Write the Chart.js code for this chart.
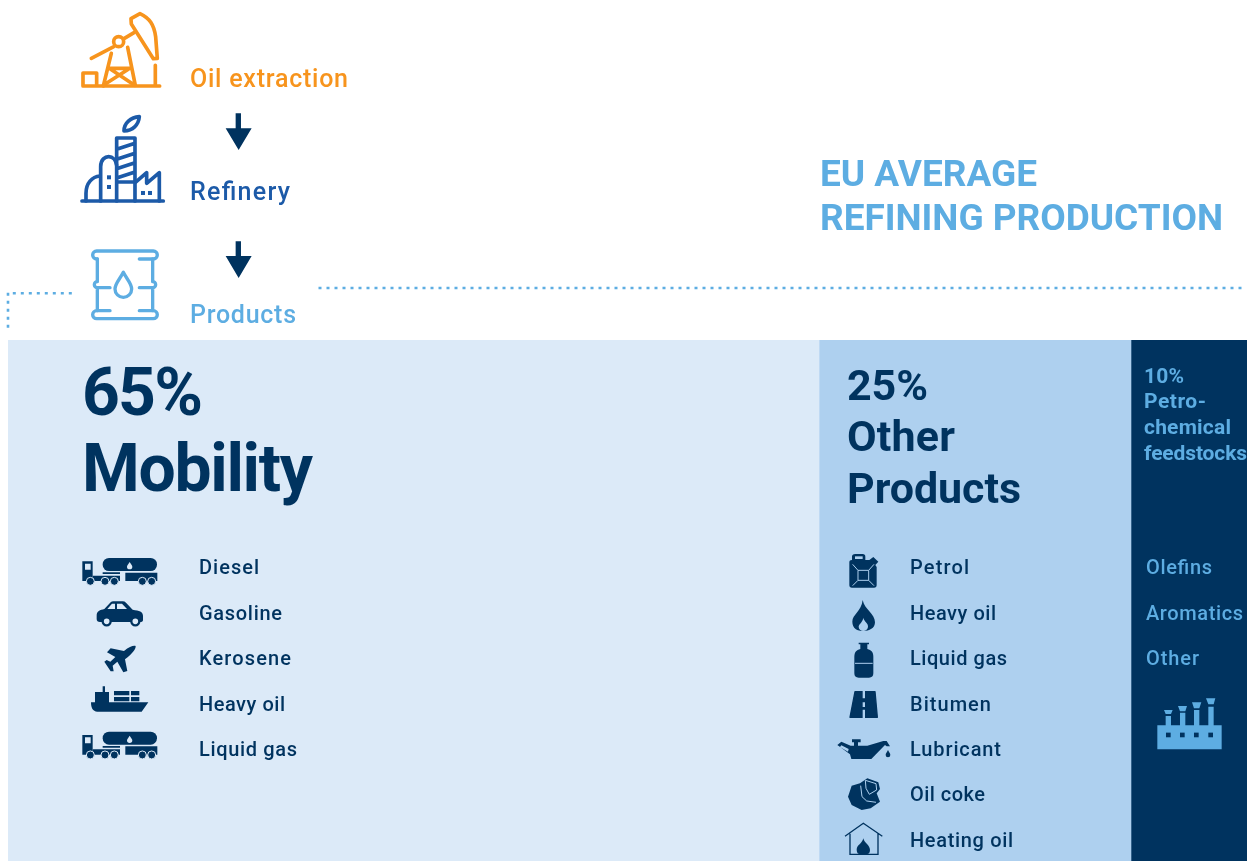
<!DOCTYPE html>
<html>
<head>
<meta charset="utf-8">
<title>EU average refining production</title>
<script src="https://cdn.jsdelivr.net/npm/chart.js@4"></script>
<style>
  html, body { margin: 0; padding: 0; width: 1247px; height: 861px; overflow: hidden; background: #fff; }
  #chart { position: absolute; left: 0; top: 0; }
  #overlay { position: absolute; left: 0; top: 0; width: 1247px; height: 861px; }
  #overlay text { font-family: Roboto, sans-serif; }
</style>
</head>
<body>
<canvas id="chart" width="1256" height="861" role="img" aria-label="EU average refining production: 65% mobility, 25% other products, 10% petrochemical feedstocks"></canvas>
<svg id="overlay" viewBox="0 0 1247 861" xmlns="http://www.w3.org/2000/svg">
  <defs>
    <g id="truck">
      <path fill="#00335f" fill-rule="evenodd" d="M37 49H68V108H37ZM45 56V74H62V56Z"/>
      <rect x="98" y="39" width="163" height="39" rx="19" fill="#00335f"/>
      <path fill="#00335f" d="M68 92H150V108H68ZM166 83H262V108H166ZM98 82H150V87H98Z"/>
      <path fill="#dceaf8" d="M179 51C175 58 171 61 171 65A8 8 0 0 0 187 65C187 61 183 58 179 51Z"/>
      <g fill="#00335f" stroke="#dceaf8" stroke-width="3">
        <circle cx="61" cy="109" r="12"/><circle cx="105" cy="109" r="12"/><circle cx="133" cy="109" r="12"/>
        <circle cx="217" cy="109" r="12"/><circle cx="245" cy="109" r="12"/>
      </g>
    </g>
  </defs>

  <!-- dotted guides -->
  <g stroke="#5dade2" stroke-width="2.6" fill="none" stroke-dasharray="3 5">
    <path d="M318.5 288H1243"/>
    <path d="M12.8 293.3H72"/>
    <path d="M8 292.8V329"/>
  </g>

  <!-- process icons, written in the 3x crop coordinates -->
  <g transform="scale(0.3333)">
    <g fill="none" stroke="#f7941d" stroke-width="11" stroke-linecap="round" stroke-linejoin="round">
      <path d="M249 258H479M249 258V219H290V258M466 196V258"/>
      <path d="M274 175L340 141M372 116L402 98"/>
      <circle cx="356" cy="125" r="15"/>
      <path d="M393 56L420 41C450 55 462 75 467 110L472 175L460 176L394 72Z"/>
      <path d="M334 160L310 258M383 142L406 256M326 205H392M332 208L404 256M385 208L310 256"/>
    </g>
    <g fill="none" stroke="#1c5aa8" stroke-width="11" stroke-linecap="round" stroke-linejoin="round">
      <path d="M246 603H490"/>
      <path d="M350 603V414H405V603M350 448L405 430M350 478L405 460M350 506L405 488M350 534L405 516M350 546H405"/>
      <path d="M302 603V500C302 478 316 470 326 470C338 470 348 480 350 496"/>
      <path d="M258 603V580C258 550 276 530 300 528"/>
      <path d="M408 546L440 518V550L478 518V603"/>
      <path d="M372 393C372 370 392 352 418 350C416 375 398 392 372 393Z"/>
    </g>
    <g fill="#1c5aa8">
      <rect x="321" y="526" width="12" height="12"/><rect x="321" y="555" width="12" height="12"/>
      <rect x="423" y="573" width="12" height="12"/><rect x="444" y="573" width="12" height="12"/>
    </g>
    <g fill="#00335f">
      <path d="M707 340H723V385H755L716 450L677 385H707Z"/>
      <path d="M707 724H723V768H755L716 834L677 768H707Z"/>
    </g>
  </g>

  <!-- barrel -->
  <g transform="translate(80 240) scale(0.3333)" fill="none" stroke="#5dade2" stroke-width="10" stroke-linecap="round" stroke-linejoin="round">
    <path d="M52 57H50A12 12 0 0 1 50 33H220A12 12 0 0 1 220 57H178"/>
    <path d="M90 212H50A12 12 0 0 0 50 236H220A12 12 0 0 0 220 212H178"/>
    <path d="M52 57V125A9 9 0 0 0 52 143V212M52 143H90"/>
    <path d="M218 57V125A9 9 0 0 1 218 143V212M218 143H178"/>
    <path d="M130 97C120 117 105 130 105 147A25 25 0 0 0 155 147C155 130 140 117 130 97Z"/>
  </g>

  <!-- mobility icons, offset to the crop they were read from -->
  <g transform="translate(70 545) scale(0.3333)">
    <use href="#truck"/>
    <use href="#truck" y="521"/>
    <path fill="#00335f" d="M80 212C80 198 90 195 103 192L122 172Q125 169 130 169H158Q164 169 168 173L188 194C208 197 219 200 219 212V225Q219 231 210 231H90Q80 231 80 222Z"/>
    <path fill="#dceaf8" d="M112 192L126 176H135V192ZM141 176H156L171 192H141Z"/>
    <g fill="#dceaf8" stroke="#00335f" stroke-width="7">
      <circle cx="110" cy="229" r="12"/><circle cx="196" cy="229" r="12"/>
    </g>
    <path fill="#00335f" d="M197 303C198 312 188 325 165 343L172 378L160 382L142 350L128 362L131 379L122 379L103 350L110 345L121 350L136 336L111 322L122 310L162 318C178 305 190 301 197 303Z"/>
    <path fill="#00335f" d="M63 472H75V441H98V424H105V441H117V472H235L215 500H82C68 500 63 488 63 472Z"/>
    <path fill="#00335f" d="M132 438H178V451H132ZM183 438H208V451H183ZM132 456H178V469H132ZM183 456H208V469H183Z"/>
  </g>

  <!-- other product icons -->
  <g transform="translate(830 545) scale(0.3333)">
    <path fill="#00335f" d="M66 45V35Q66 27 76 27H98Q106 27 106 35V45H118L130 36L145 50L136 60L140 66V120Q140 128 132 128H66Q58 128 58 120V52Q58 45 66 45Z"/>
    <path fill="#aed0ef" d="M75 34H98V42H75Z"/>
    <path fill="none" stroke="#aed0ef" stroke-width="3" d="M84 76H116V106H84ZM68 58L84 76M132 58L116 76M68 122L84 106M132 122L116 106"/>
    <path fill="#00335f" d="M98 165C104 195 135 205 135 232C135 250 118 258 100 258C82 258 67 250 67 230C67 208 94 200 98 165Z"/>
    <path fill="#aed0ef" d="M100 218C102 230 116 234 114 246C113 254 106 258 100 258C92 258 86 252 86 245C86 238 98 232 100 218Z"/>
    <path fill="#00335f" d="M86 293H117V298H112V312C124 315 130 322 130 335V385Q130 398 117 398H86Q73 398 73 385V335C73 322 79 315 91 312V298H86Z"/>
    <path stroke="#aed0ef" stroke-width="3" d="M75 355H128"/>
    <path fill="#00335f" fill-rule="evenodd" d="M22 600L34 590L62 602H72V592H66V583H92V592H84V602H112L160 588H170L180 604H170L165 600L124 642H64L60 628ZM34 601L30 606L54 620L56 612Z"/>
    <path fill="#00335f" d="M174 615C171 622 167 625 167 630A7 7 0 0 0 181 630C181 625 177 622 174 615Z"/>
    <path fill="#00335f" d="M112 700L145 712L150 732L140 745L150 770L122 790L95 795L65 780L54 755L65 722L90 715Z"/>
    <path fill="none" stroke="#aed0ef" stroke-width="3" d="M106 706L138 716L140 735L118 748L108 730ZM92 722L96 755L110 768L138 772"/>
    <path fill="none" stroke="#00335f" stroke-width="4" d="M45 874L100 835L157 874M60 866V928H144V866"/>
    <path fill="#00335f" d="M100 880C103 895 120 900 120 915C120 924 115 927 112 927H88C84 927 80 922 80 914C80 900 97 896 100 880Z"/>
  </g>

  <!-- road icon -->
  <g transform="translate(840 685) scale(0.3333)">
    <path fill="#00335f" stroke="#00335f" stroke-width="4" stroke-linejoin="round" d="M45 20H105L112 97H30Z"/>
    <path fill="#aed0ef" d="M68 17H75V40H68ZM68 52H75V66H68ZM68 74H75V100H68Z"/>
  </g>

  <!-- factory icon -->
  <g transform="translate(1125 340) scale(0.3333)" fill="#5dade2">
    <path d="M97 1156H122V1128H138V1156H165V1118H181V1156H207V1110H223V1156H250V1100H266V1156H290V1228H97Z"/>
    <path d="M117 1110H143L138 1122H122ZM159 1098H186L181 1114H165ZM201 1087H229L223 1105H207ZM243 1075H271L266 1093H250Z"/>
    <g fill="#00335f">
      <rect x="123" y="1178" width="14" height="14"/><rect x="165" y="1178" width="14" height="14"/>
      <rect x="207" y="1178" width="14" height="14"/><rect x="250" y="1178" width="14" height="14"/>
    </g>
  </g>

  <g id="labels"></g>
</svg>

<script>
// shares of refining output, percent
const shareLabels = ['Mobility', 'Other Products', 'Petrochemical feedstocks'];
const shareValues = [65, 25, 10];
const shareColors = ['#dceaf8', '#aed0ef', '#00335f'];
const rowLabels = ['EU average'];

const mobilityProducts = ['Diesel', 'Gasoline', 'Kerosene', 'Heavy oil', 'Liquid gas'];
const otherProducts = ['Petrol', 'Heavy oil', 'Liquid gas', 'Bitumen', 'Lubricant', 'Oil coke', 'Heating oil'];
const petroProducts = ['Olefins', 'Aromatics', 'Other'];

// text layout: widths in px for each word list
const listBaselines = [574, 620, 665, 711, 756, 801, 847];
const mobilityWidths = [60, 83, 92, 86, 98];
const otherWidths = [59, 86, 97, 81, 91, 75, 103];
const petroWidths = [66, 97, 53];

const NAVY = '#00335f';
const LIGHT = '#5dade2';

const labels = document.getElementById('labels');

function addText(str, x, y, size, weight, color, width) {
  const t = document.createElementNS('http://www.w3.org/2000/svg', 'text');
  t.setAttribute('x', x);
  t.setAttribute('y', y);
  t.setAttribute('font-size', size);
  t.setAttribute('font-weight', weight);
  t.setAttribute('fill', color);
  t.setAttribute('textLength', width);
  t.setAttribute('lengthAdjust', 'spacing');
  t.textContent = str;
  labels.appendChild(t);
}

addText('Oil extraction', 190, 87, 25, 500, '#f7941d', 158);
addText('Refinery', 190, 200, 25, 500, '#1c5aa8', 100);
addText('Products', 190, 323, 25, 500, LIGHT, 106);

addText('EU AVERAGE', 820, 186, 37, 700, LIGHT, 217);
addText('REFINING PRODUCTION', 820, 230, 37, 700, LIGHT, 403);

addText(shareValues[0] + '%', 82, 415, 66, 700, NAVY, 121);
addText('Mobility', 82, 491, 66, 700, NAVY, 231);

addText(shareValues[1] + '%', 847, 400, 43, 700, NAVY, 81);
addText('Other', 847, 451, 43, 700, NAVY, 108);
addText('Products', 847, 503, 43, 700, NAVY, 174);

addText(shareValues[2] + '%', 1144, 383, 21, 700, LIGHT, 40);
addText('Petro-', 1144, 408, 21, 700, LIGHT, 62);
addText('chemical', 1144, 434, 21, 700, LIGHT, 87);
addText('feedstocks', 1144, 460, 21, 700, LIGHT, 103);

mobilityProducts.forEach((p, i) => addText(p, 199, listBaselines[i], 20, 500, NAVY, mobilityWidths[i]));
otherProducts.forEach((p, i) => addText(p, 910, listBaselines[i], 20, 500, NAVY, otherWidths[i]));
petroProducts.forEach((p, i) => addText(p, 1146, listBaselines[i], 20, 500, LIGHT, petroWidths[i]));

new Chart(document.getElementById('chart'), {
  type: 'bar',
  data: {
    labels: rowLabels,
    datasets: shareLabels.map((name, i) => ({
      label: name,
      data: [shareValues[i]],
      backgroundColor: shareColors[i],
      borderWidth: 0,
      barPercentage: 1,
      categoryPercentage: 1
    }))
  },
  options: {
    indexAxis: 'y',
    responsive: false,
    animation: false,
    // the last bar runs past the right edge of the page, as in the source
    layout: { padding: { left: 8, top: 340, right: 0.25, bottom: 0 } },
    plugins: {
      legend: { display: false },
      tooltip: { enabled: false }
    },
    scales: {
      x: { stacked: true, min: 0, max: 100, display: false },
      y: { stacked: true, display: false }
    }
  }
});
</script>
</body>
</html>
